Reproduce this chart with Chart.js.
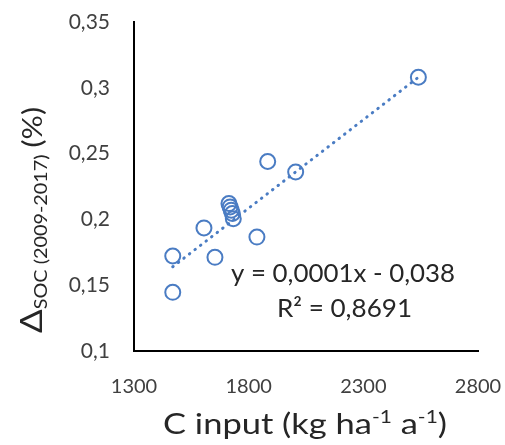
<!DOCTYPE html>
<html>
<head>
<meta charset="utf-8">
<script src="https://cdn.jsdelivr.net/npm/chart.js@4/dist/chart.umd.min.js"></script>
<style>
  html, body { margin: 0; padding: 0; background: #fff; }
  #c { display: block; }
</style>
</head>
<body>
<canvas id="c" width="505" height="445"></canvas>
<script>
// C input (kg ha-1 a-1) vs delta SOC (%)
var cInput = [2540, 1883, 2005, 1714, 1719, 1724, 1729, 1733, 1605, 1836, 1653, 1469, 1469];
var deltaSoc = [0.308, 0.244, 0.236, 0.212, 0.2095, 0.207, 0.2045, 0.2005, 0.1935, 0.1866, 0.1712, 0.1722, 0.1446];
// dotted trend line ends
var trendX = [1469, 2540];
var trendY = [0.164, 0.308];
var xTicks = [1300, 1800, 2300, 2800];
var yTicks = [0.1, 0.15, 0.2, 0.25, 0.3, 0.35];
var yTickLabels = ['0,1', '0,15', '0,2', '0,25', '0,3', '0,35'];

var blue = '#4a7cc3';
var textCol = '#404040';
var fontFam = 'Lato, "Liberation Sans", sans-serif';

var points = cInput.map(function (x, i) { return { x: x, y: deltaSoc[i] }; });
var trend = trendX.map(function (x, i) { return { x: x, y: trendY[i] }; });

// draws text runs (with sub/superscripts) squeezed into a given width
function drawRuns(ctx, runs, x, y, width) {
    var total = 0;
    runs.forEach(function (r) {
        ctx.font = r.size + 'px ' + fontFam;
        r.w = ctx.measureText(r.t).width;
        total += r.w + (r.gap || 0);
    });
    var s = width / total;
    ctx.save();
    ctx.translate(x, y);
    ctx.scale(s, 1);
    var cx = 0;
    runs.forEach(function (r) {
        ctx.font = r.size + 'px ' + fontFam;
        ctx.fillText(r.t, cx + (r.gap || 0), r.dy || 0);
        cx += r.w + (r.gap || 0);
    });
    ctx.restore();
}

var labelsPlugin = {
    id: 'labels',
    afterDraw: function (chart) {
        var ctx = chart.ctx;
        ctx.save();
        ctx.fillStyle = '#262626';
        ctx.textBaseline = 'alphabetic';
        ctx.textAlign = 'left';
        // x axis title
        drawRuns(ctx, [
            { t: 'C input (kg ha', size: 28 },
            { t: '-1', size: 17, dy: -11 },
            { t: ' a', size: 28 },
            { t: '-1', size: 17, dy: -11 },
            { t: ')', size: 28 }
        ], 163, 434, 284);
        // y axis title, rotated
        ctx.save();
        ctx.translate(42, 333);
        ctx.rotate(-Math.PI / 2);
        drawRuns(ctx, [
            { t: '\u0394', size: 30 },
            { t: 'SOC (2009-2017)', size: 17, dy: 5 },
            { t: '(%)', size: 26, gap: 6 }
        ], 0, 0, 226);
        ctx.restore();
        // regression text
        drawRuns(ctx, [{ t: 'y = 0,0001x - 0,038', size: 25 }], 231, 282, 224);
        drawRuns(ctx, [{ t: 'R\u00b2 = 0,8691', size: 25 }], 277, 317, 135);
        ctx.restore();
    }
};

var chart = new Chart(document.getElementById('c'), {
    type: 'scatter',
    data: {
        datasets: [{
                label: 'data',
                data: points,
                pointStyle: 'circle',
                pointRadius: 7.5,
                pointBorderWidth: 2,
                borderColor: blue,
                backgroundColor: 'rgba(0,0,0,0)',
                pointBackgroundColor: 'rgba(0,0,0,0)'
            }, {
                label: 'trend',
                type: 'line',
                data: trend,
                borderColor: blue,
                borderWidth: 3,
                borderDash: [0.5, 6.5],
                borderCapStyle: 'round',
                pointRadius: 0,
                fill: false,
                tension: 0
            }]
    },
    options: {
        responsive: false,
        devicePixelRatio: 1,
        animation: false,
        layout: { padding: { top: 22, right: 27, left: 0, bottom: 0 } },
        plugins: {
            legend: { display: false },
            tooltip: { enabled: false }
        },
        scales: {
            x: {
                type: 'linear',
                min: 1300,
                max: 2800,
                afterBuildTicks: function (scale) {
                    scale.ticks = xTicks.map(function (v) { return { value: v }; });
                },
                afterFit: function (scale) {
                    scale.height = 94;
                    scale.paddingLeft = 0;
                    scale.paddingRight = 0;
                },
                grid: { display: false, drawTicks: false },
                border: { display: true, color: '#000', width: 2 },
                ticks: {
                    padding: 24,
                    color: textCol,
                    font: { family: fontFam, size: 20 },
                    maxRotation: 0,
                    callback: function (v) { return String(v); }
                }
            },
            y: {
                type: 'linear',
                min: 0.1,
                max: 0.35,
                afterBuildTicks: function (scale) {
                    scale.ticks = yTicks.map(function (v) { return { value: v }; });
                },
                afterFit: function (scale) {
                    scale.width = 134;
                    scale.paddingTop = 0;
                    scale.paddingBottom = 0;
                },
                grid: { display: false, drawTicks: false },
                border: { display: true, color: '#000', width: 2 },
                ticks: {
                    padding: 24,
                    color: textCol,
                    font: { family: fontFam, size: 21 },
                    callback: function (v, i) { return yTickLabels[i]; }
                }
            }
        }
    },
    plugins: [labelsPlugin]
});
</script>
</body>
</html>
